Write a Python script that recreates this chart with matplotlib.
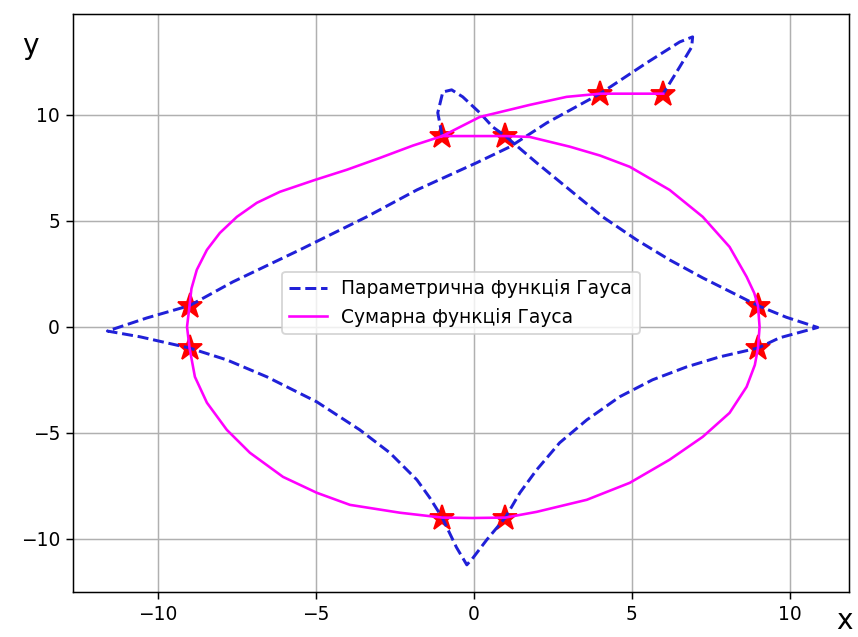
import matplotlib.pyplot as plt

# nodes (red stars)
node_x = [-1, 1, 9, 9, 1, -1, -9, -9, 4, 6]
node_y = [9, 9, 1, -1, -9, -9, -1, 1, 11, 11]

# parametric Gauss curve
param_x = [-1.0, -1.14, -0.98, -0.7, -0.35, 0.19, 0.6, 1.0, 1.99, 3.04, 4.08, 5.16,
           6.2, 7.25, 8.32, 9.0, 9.9, 10.89, 9.68, 9.0, 7.78, 6.74, 5.66, 4.62,
           3.58, 2.72, 1.99, 1.46, 1.0, 0.41, -0.05, -0.22, -0.55, -1.0, -1.4,
           -1.8, -2.66, -3.61, -4.97, -6.55, -7.82, -9.0, -10.57, -11.6, -10.35,
           -9.0, -7.63, -5.51, -3.39, -1.8, 0.09, 1.14, 2.31, 4.0, 5.47, 6.52,
           6.93, 6.9, 6.52, 6.0]
param_y = [9.0, 10.1, 11.08, 11.18, 10.85, 10.1, 9.43, 9.0, 7.74, 6.46, 5.19, 4.1,
           3.16, 2.31, 1.51, 1.0, 0.45, -0.03, -0.52, -1.0, -1.42, -1.89, -2.5, -3.3,
           -4.39, -5.47, -6.75, -7.83, -9.0, -10.05, -10.95, -11.23, -10.4, -9.0,
           -8.05, -7.22, -5.94, -4.86, -3.54, -2.36, -1.56, -1.0, -0.47, -0.2, 0.42,
           1.0, 2.12, 3.63, 5.19, 6.46, 7.74, 8.49, 9.62, 11.0, 12.45, 13.44,
           13.68, 13.2, 12.26, 11.0]

# summary Gauss curve
sum_x = [-1.0, 1.0, 1.77, 3.04, 4.0, 4.94, 6.2, 7.25, 8.1, 8.64, 8.88, 9.0, 9.05,
         9.0, 8.9, 8.64, 8.1, 7.25, 6.2, 4.94, 3.58, 1.99, 1.0, -0.05, -1.0, -2.34,
         -3.92, -4.97, -6.04, -7.09, -7.82, -8.45, -8.83, -9.0, -9.08, -9.0, -8.94,
         -8.77, -8.45, -8.04, -7.5, -6.87, -6.14, -5.03, -4.02, -2.97, -1.93, -1.0,
         0.19, 1.77, 2.94, 4.0, 6.0]
sum_y = [9.0, 9.0, 8.96, 8.5, 8.08, 7.55, 6.46, 5.19, 3.77, 2.36, 1.6, 1.0, 0.0,
         -1.0, -1.8, -2.83, -4.06, -5.19, -6.27, -7.36, -8.16, -8.73, -9.0, -9.02,
         -9.0, -8.77, -8.4, -7.83, -7.08, -5.94, -4.86, -3.58, -2.36, -1.0, 0.0,
         1.0, 1.8, 2.69, 3.63, 4.43, 5.19, 5.85, 6.37, 6.93, 7.41, 7.97, 8.55, 9.0,
         9.9, 10.47, 10.85, 11.0, 11.0]

fig, ax = plt.subplots(figsize=(6.41, 4.754), dpi=134)
fig.subplots_adjust(left=0.085, right=0.988, top=0.978, bottom=0.071)

ax.plot(node_x, node_y, '*', color='red', markersize=14, zorder=2)
ax.plot(param_x, param_y, '--', color='#2020d8', lw=1.6,
        label='Параметрична функція Гауса', zorder=3)
ax.plot(sum_x, sum_y, '-', color='magenta', lw=1.4,
        label='Сумарна функція Гауса', zorder=3)

ax.set_xlim(-12.69, 11.87)
ax.set_ylim(-12.5, 14.76)
ax.set_xticks([-10, -5, 0, 5, 10])
ax.set_yticks([-10, -5, 0, 5, 10])
ax.grid(True)

ax.set_xlabel('x', fontsize=15)
ax.set_ylabel('y', fontsize=15, rotation=0)
ax.xaxis.set_label_coords(0.995, -0.026)
ax.yaxis.set_label_coords(-0.055, 0.92)

ax.legend(loc='center')

fig.savefig('out.png')
